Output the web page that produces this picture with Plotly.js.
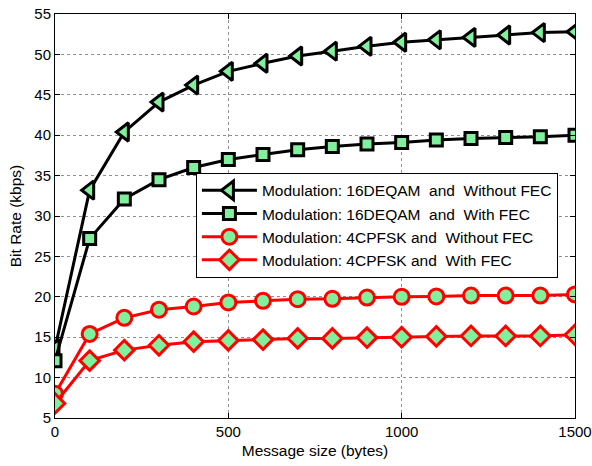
<!DOCTYPE html>
<html>
<head>
<meta charset="utf-8">
<script src="https://cdn.plot.ly/plotly-3.0.1.min.js"></script>
<style>html,body{margin:0;padding:0;background:#fff;}#chart{width:592px;height:466px;}</style>
</head>
<body>
<div id="chart"></div>
<script>
const messageSize = [0,100,200,300,400,500,600,700,800,900,1000,1100,1200,1300,1400,1500];
const qamNoFec = [13.6,33.2,40.4,44.1,46.2,47.9,48.9,49.8,50.4,51.0,51.5,51.8,52.1,52.4,52.7,52.8];
const qamFec = [12.1,27.2,32.1,34.5,36.0,37.0,37.6,38.2,38.6,38.9,39.1,39.4,39.6,39.7,39.8,40.0];
const fskNoFec = [8.0,15.4,17.4,18.4,18.8,19.3,19.5,19.7,19.75,19.9,20.0,20.05,20.15,20.15,20.15,20.3];
const fskFec = [6.8,12.1,13.4,14.0,14.45,14.6,14.7,14.85,14.85,14.95,15.0,15.1,15.15,15.15,15.15,15.3];
const seriesNames = [
  'Modulation: 16DEQAM \u00a0and \u00a0Without FEC',
  'Modulation: 16DEQAM \u00a0and \u00a0With FEC',
  'Modulation: 4CPFSK and \u00a0Without FEC',
  'Modulation: 4CPFSK and \u00a0With FEC'
];
const fill = '#80F09C';
function tr(y, name, color, symbol, size) {
  return {x: messageSize, y: y, name: name, type: 'scatter', mode: 'lines+markers',
    line: {color: color, width: 3},
    marker: {symbol: symbol, size: size, color: fill, line: {color: color, width: 3}}};
}
const data = [
  tr(qamNoFec, seriesNames[0], '#000000', 'triangle-left', 16),
  tr(qamFec, seriesNames[1], '#000000', 'square', 12),
  tr(fskNoFec, seriesNames[2], '#FF0000', 'circle', 15),
  tr(fskFec, seriesNames[3], '#FF0000', 'diamond', 15)
];
const axisCommon = {showline: true, linecolor: '#000', linewidth: 1, mirror: 'ticks',
  ticks: 'inside', ticklen: 5, tickcolor: '#000', showgrid: true, gridcolor: '#909090',
  griddash: 'dot', gridwidth: 1, zeroline: false,
  tickfont: {family: 'Liberation Sans, Arial, sans-serif', size: 15, color: '#000'}};
const layout = {
  width: 592, height: 466,
  margin: {l: 55, r: 17, t: 14, b: 48},
  paper_bgcolor: '#fff', plot_bgcolor: '#fff',
  font: {family: 'Liberation Sans, Arial, sans-serif', color: '#000'},
  xaxis: Object.assign({}, axisCommon, {range: [0, 1500], tickvals: [0,500,1000,1500],
    title: {text: 'Message size (bytes)', font: {size: 15.5}, standoff: 6}}),
  yaxis: Object.assign({}, axisCommon, {range: [5, 55], dtick: 5, tick0: 5,
    title: {text: 'Bit Rate (kbps)', font: {size: 15.5}, standoff: 8}}),
  showlegend: true,
  legend: {x: 0.271, y: 0.607, xanchor: 'left', yanchor: 'top', bgcolor: '#fff',
    bordercolor: '#000', borderwidth: 1, itemwidth: 55, tracegroupgap: 0,
    font: {size: 15.5, family: 'Liberation Sans, Arial, sans-serif', color: '#000'}}
};
Plotly.newPlot('chart', data, layout, {displayModeBar: false, staticPlot: true});
</script>
</body>
</html>
